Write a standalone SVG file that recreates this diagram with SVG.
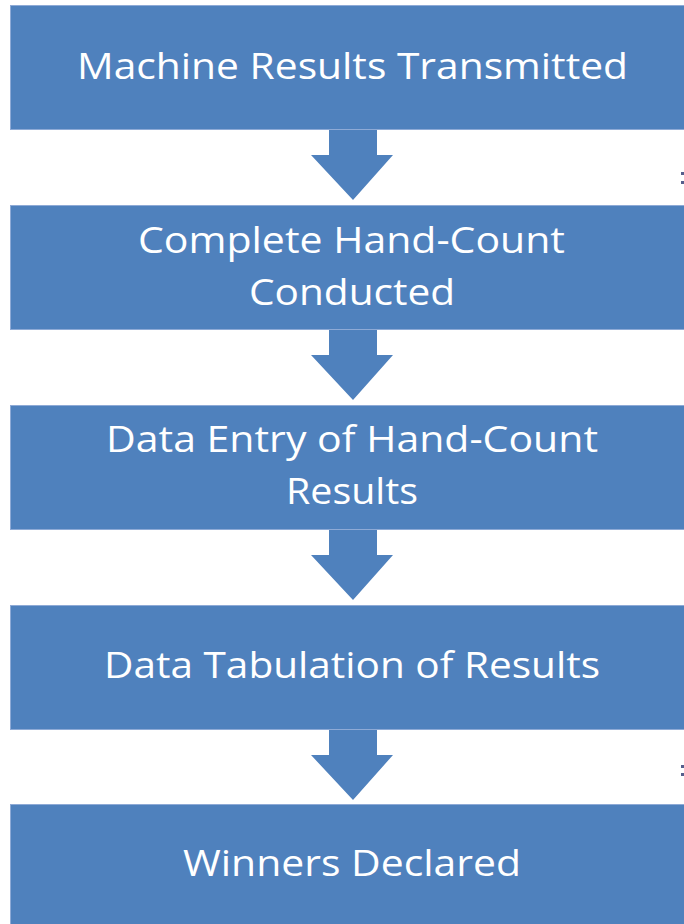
<svg xmlns="http://www.w3.org/2000/svg" width="684" height="924" viewBox="0 0 684 924">
<style>
.box{fill:#4f81bd;stroke:#8eaad6;stroke-width:1}
.arrow{fill:#4f81bd}
.t{font-family:"Open Sans","Liberation Sans",sans-serif;font-size:36px;fill:#ffffff;text-anchor:middle}
.dot{fill:#555e8c}
</style>
<rect width="684" height="924" fill="#ffffff"/>
<g id="connectors">
<polygon class="arrow" points="329,130 377,130 377,155 393,155 353,200 311,155 329,155"/>
<polygon class="arrow" points="329,330 377,330 377,355 393,355 353,400 311,355 329,355"/>
<polygon class="arrow" points="329,530 377,530 377,555 393,555 353,600 311,555 329,555"/>
<polygon class="arrow" points="329,730 377,730 377,755 393,755 353,800 311,755 329,755"/>
</g>
<g id="node1">
<rect class="box" x="10.5" y="5.5" width="690" height="124"/>
<text class="t" x="352.5" y="79" textLength="551" lengthAdjust="spacingAndGlyphs">Machine Results Transmitted</text>
</g>
<g id="node2">
<rect class="box" x="10.5" y="205.5" width="690" height="124"/>
<text class="t" x="351.5" y="253" textLength="427" lengthAdjust="spacingAndGlyphs">Complete Hand-Count</text>
<text class="t" x="352" y="305" textLength="206" lengthAdjust="spacingAndGlyphs">Conducted</text>
</g>
<g id="node3">
<rect class="box" x="10.5" y="405.5" width="690" height="124"/>
<text class="t" x="352" y="452" textLength="492" lengthAdjust="spacingAndGlyphs">Data Entry of Hand-Count</text>
<text class="t" x="352" y="504" textLength="132" lengthAdjust="spacingAndGlyphs">Results</text>
</g>
<g id="node4">
<rect class="box" x="10.5" y="605.5" width="690" height="124"/>
<text class="t" x="352" y="678" textLength="496" lengthAdjust="spacingAndGlyphs">Data Tabulation of Results</text>
</g>
<g id="node5">
<rect class="box" x="10.5" y="804.5" width="690" height="130"/>
<text class="t" x="352" y="876" textLength="338" lengthAdjust="spacingAndGlyphs">Winners Declared</text>
</g>
<rect class="dot" x="681" y="172" width="3" height="3"/>
<rect class="dot" x="681" y="181" width="3" height="3"/>
<rect class="dot" x="681" y="765" width="3" height="3"/>
<rect class="dot" x="681" y="773" width="3" height="3"/>
</svg>
